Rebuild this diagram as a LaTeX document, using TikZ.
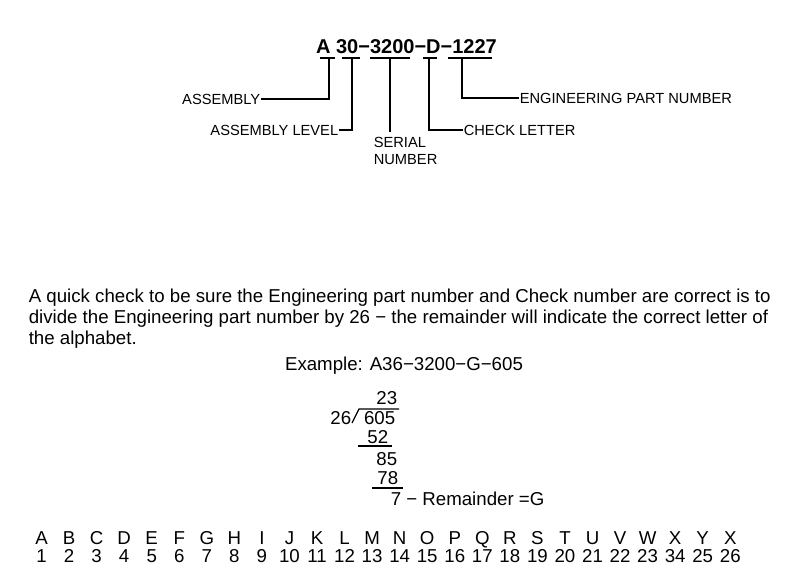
\documentclass[tikz,border=0pt]{standalone}
\usepackage{fontspec}
\setmainfont{Liberation Sans}
\usepackage{tikz}

\begin{document}
\begin{tikzpicture}[x=0.75pt, y=-0.75pt, line width=1.2pt,
  part/.style={font=\fontsize{15}{17}\selectfont\bfseries, inner sep=0pt, anchor=base},
  lbl/.style={font=\fontsize{11}{12.75}\selectfont, inner sep=0pt},
  txt/.style={font=\fontsize{14}{15.75}\selectfont, inner sep=0pt},
  thin/.style={line width=0.9pt}]
\useasboundingbox (0,0) rectangle (800,584);

\node[part] (pn) at (406.5,54) {A 30−3200−D−1227};
\draw (320,58) -- (335,58);
\draw (342,58) -- (360,58);
\draw (370,58) -- (410,58);
\draw (423,58) -- (437,58);
\draw (448,58) -- (492,58);
\coordinate (ta) at (329,58);
\coordinate (t30) at (352,58);
\coordinate (tser) at (390,58);
\coordinate (td) at (429,58);
\coordinate (tpn) at (462,58);

\node[lbl, anchor=east] (asm) at (261,99) {ASSEMBLY};
\node[lbl, anchor=east] (asml) at (339,130) {ASSEMBLY LEVEL};
\node[lbl, anchor=north west, align=left] (ser) at (373,136) {SERIAL\\NUMBER};
\node[lbl, anchor=west] (chk) at (463,130) {CHECK LETTER};
\node[lbl, anchor=west] (eng) at (519,98) {ENGINEERING PART NUMBER};

\draw (ta) |- (asm.east);
\draw (t30) |- (asml.east);
\draw[shorten >=3pt] (tser) -- (tser |- ser.north);
\draw (td) |- (chk.west);
\draw (tpn) |- (eng.west);

\node[txt, anchor=north west, align=left] (para) at (28,288)
  {A quick check to be sure the Engineering part number and Check number are correct is to\\
   divide the Engineering part number by 26 − the remainder will indicate the correct letter of\\
   the alphabet.};
\node[txt, anchor=base] (ex) at (404,371) {Example: A36−3200−G−605};

\node[txt, anchor=base east] (quo) at (398,405) {23};
\node[txt, anchor=base east] (dvs) at (352,425) {26};
\node[txt, anchor=base east] (dvd) at (396,425) {605};
\node[txt, anchor=base east] (sub1) at (389,444) {52};
\node[txt, anchor=base east] (rst) at (398,466) {85};
\node[txt, anchor=base east] (sub2) at (399,485) {78};
\node[txt, anchor=base west] (rem) at (390,506) {7 − Remainder =G};
\draw[thin] (352,423) -- (359,409) -- (399,409);
\draw[thin] (358,446) -- (392,446);
\draw[thin] (372,488) -- (403,488);

\foreach \ch [count=\i] in {A,B,C,D,E,F,G,H,I,J,K,L,M,N,O,P,Q,R,S,T,U,V,W,X,Y,X}
  \node[txt, anchor=base] (l\i) at ({41.5+27.55*(\i-1)},544) {\ch};
\foreach \nm [count=\i] in {1,2,3,4,5,6,7,8,9,10,11,12,13,14,15,16,17,18,19,20,21,22,23,34,25,26}
  \node[txt, anchor=base] (n\i) at ({41.5+27.55*(\i-1)},562) {\nm};
\end{tikzpicture}
\end{document}
